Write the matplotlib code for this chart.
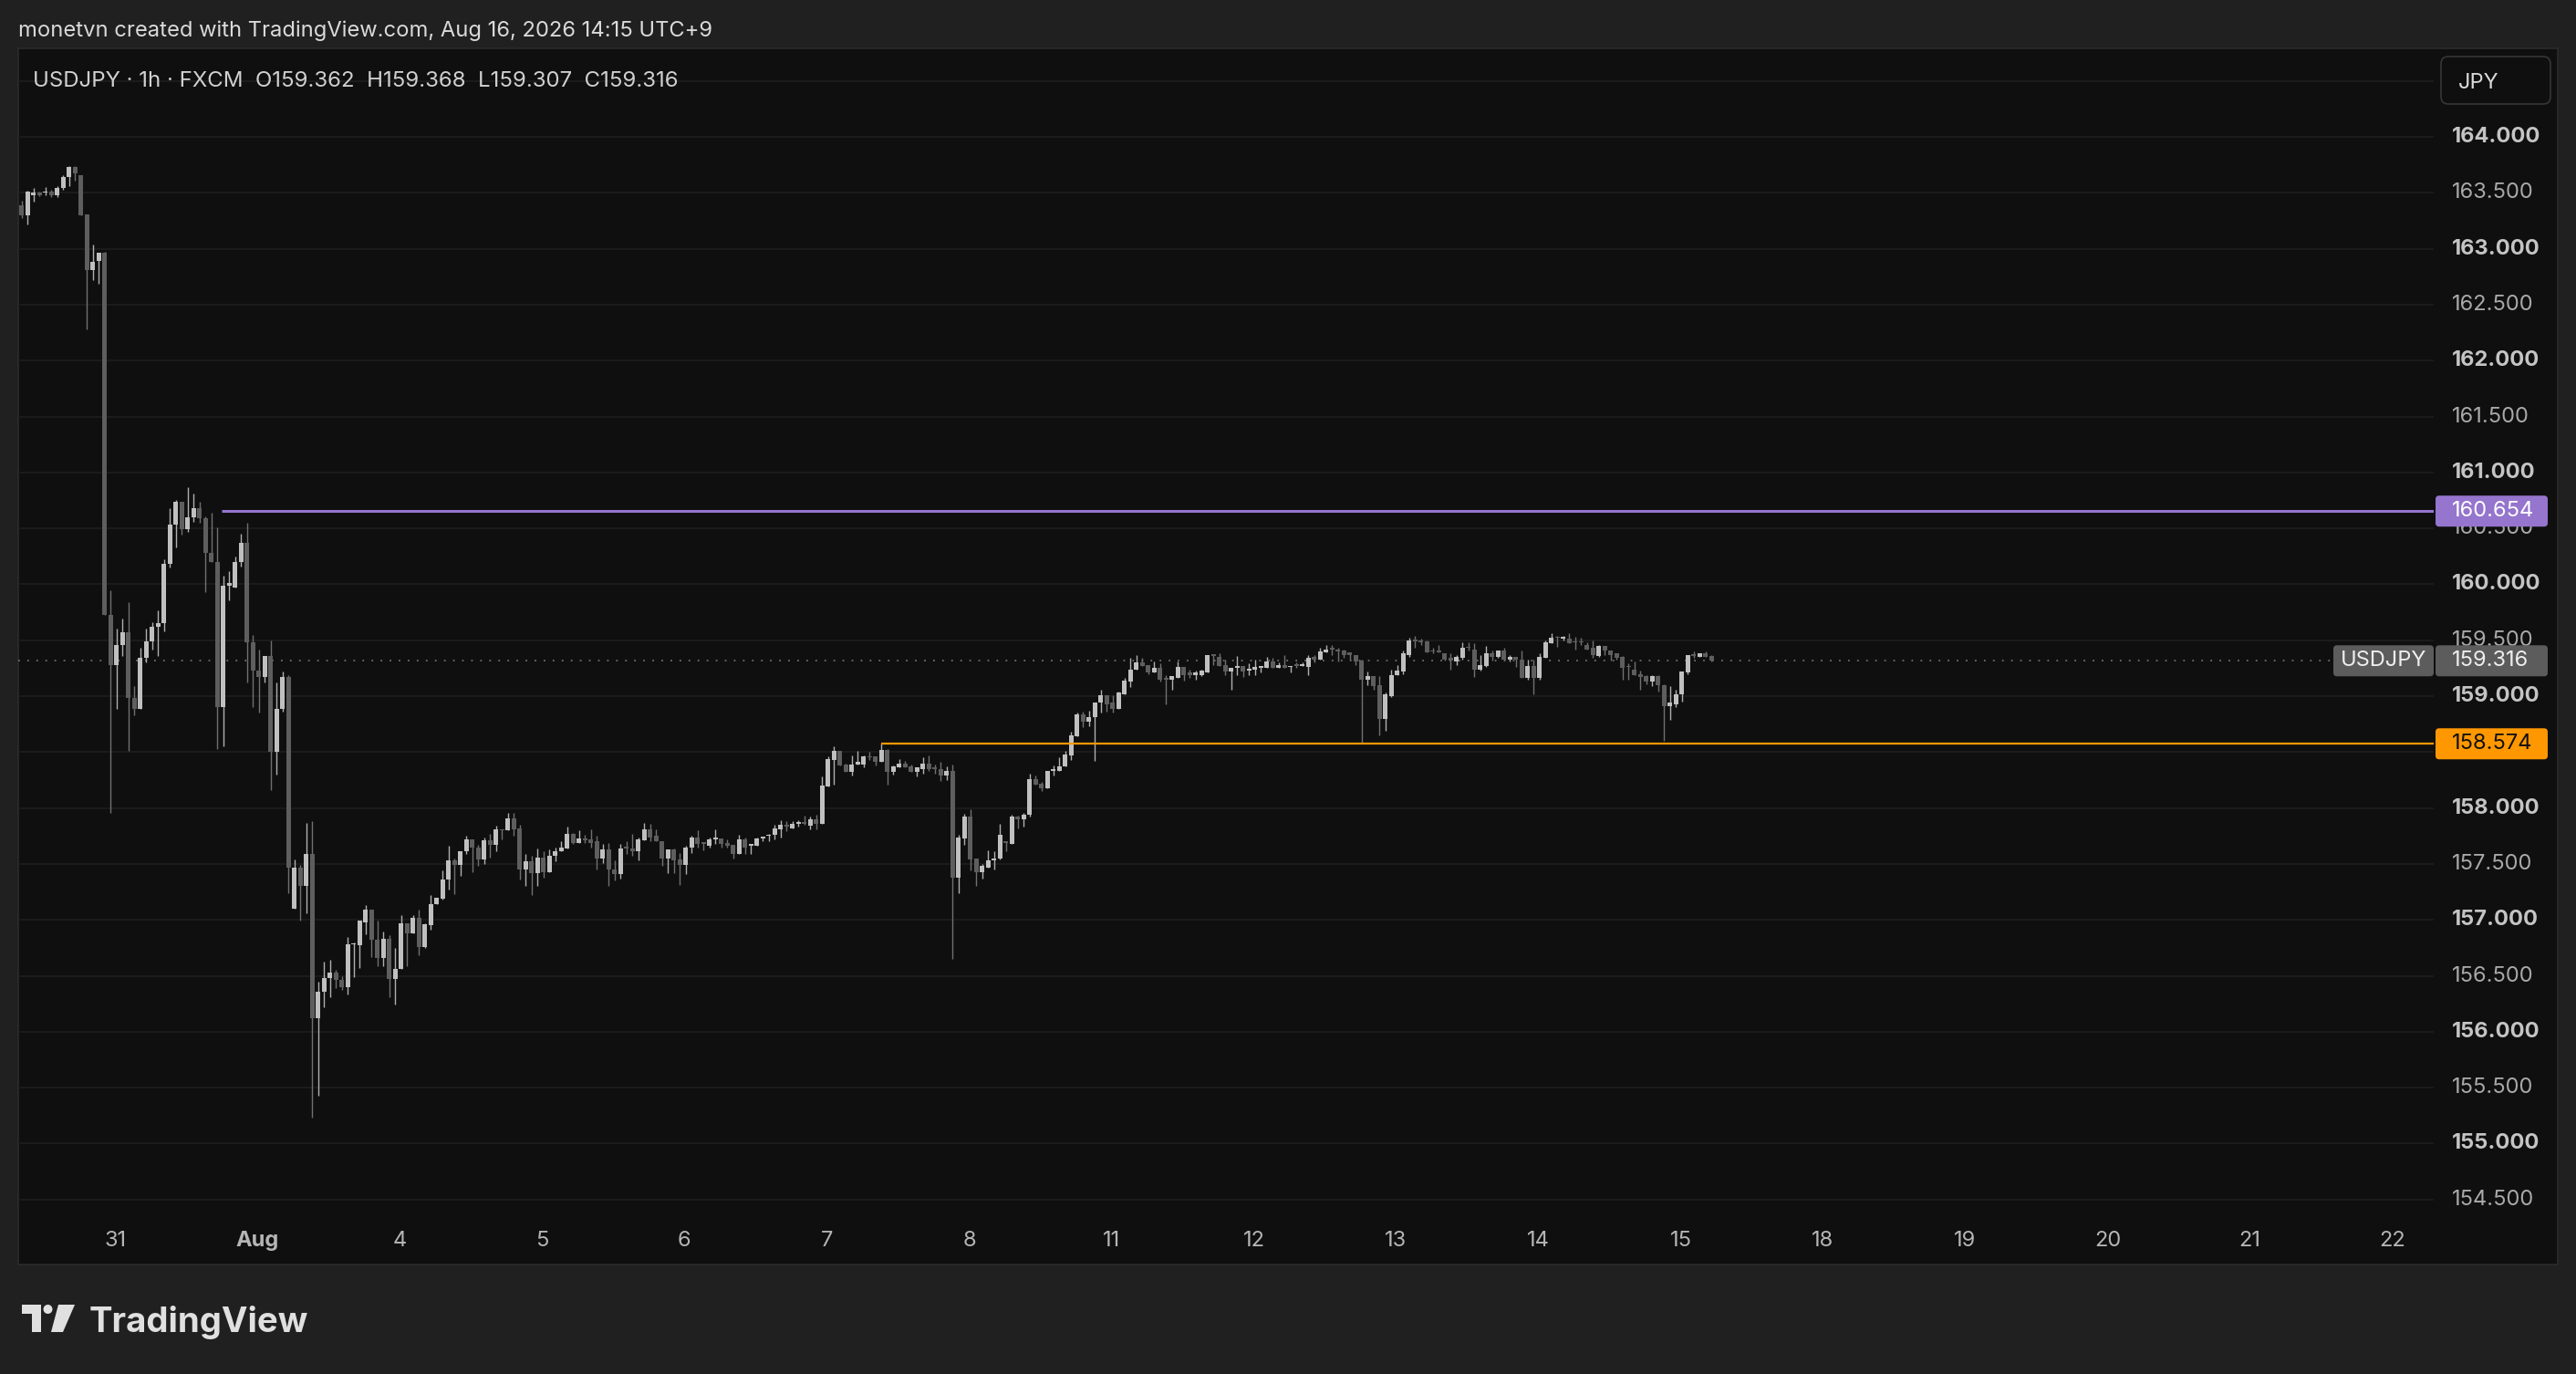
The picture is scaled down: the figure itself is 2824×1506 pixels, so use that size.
import numpy as np
import matplotlib.pyplot as plt
import matplotlib.transforms as mtransforms
from matplotlib.patches import Rectangle, FancyBboxPatch, Circle, Polygon

plt.rcParams['font.family'] = ['Inter', 'DejaVu Sans']

W, H, DPI = 2824, 1506, 100

# hourly USDJPY candles
opens = [
    163.39, 163.30, 163.48, 163.50, 163.50, 163.51, 163.48, 163.54, 163.64, 163.73,
    163.66, 163.31, 162.81, 162.89, 162.96, 159.73, 159.28, 159.46, 159.57, 158.98,
    158.89, 159.34, 159.49, 159.62, 159.65, 160.18, 160.53, 160.74, 160.49, 160.60,
    160.68, 160.59, 160.28, 160.20, 158.90, 159.99, 159.97, 160.20, 160.37, 159.48,
    159.23, 159.17, 159.36, 158.50, 158.89, 159.17, 157.10, 157.47, 157.30, 157.59,
    156.12, 156.36, 156.48, 156.53, 156.46, 156.40, 156.78, 156.77, 156.98, 157.09,
    156.82, 156.66, 156.83, 156.47, 156.56, 156.97, 156.88, 157.02, 156.76, 156.95,
    157.14, 157.19, 157.36, 157.53, 157.49, 157.61, 157.72, 157.65, 157.54, 157.71,
    157.67, 157.81, 157.80, 157.91, 157.82, 157.45, 157.52, 157.42, 157.56, 157.43,
    157.57, 157.61, 157.64, 157.77, 157.69, 157.73, 157.72, 157.70, 157.55, 157.63,
    157.45, 157.41, 157.65, 157.64, 157.61, 157.71, 157.81, 157.75, 157.70, 157.55,
    157.63, 157.54, 157.49, 157.65, 157.74, 157.69, 157.66, 157.72, 157.73, 157.69,
    157.67, 157.59, 157.72, 157.66, 157.66, 157.73, 157.75, 157.76, 157.81, 157.85,
    157.82, 157.86, 157.87, 157.84, 157.90, 157.86, 158.19, 158.43, 158.51, 158.39,
    158.32, 158.39, 158.39, 158.46, 158.46, 158.41, 158.52, 158.32, 158.36, 158.40,
    158.37, 158.32, 158.35, 158.40, 158.36, 158.35, 158.29, 158.33, 157.38, 157.73,
    157.92, 157.55, 157.43, 157.47, 157.53, 157.55, 157.70, 157.68, 157.92, 157.90,
    157.94, 158.26, 158.22, 158.18, 158.33, 158.33, 158.37, 158.47, 158.64, 158.84,
    158.77, 158.81, 158.94, 159.01, 158.94, 158.89, 159.02, 159.13, 159.24, 159.30,
    159.28, 159.21, 159.25, 159.16, 159.15, 159.16, 159.26, 159.21, 159.19, 159.19,
    159.21, 159.37, 159.35, 159.28, 159.22, 159.25, 159.27, 159.23, 159.24, 159.25,
    159.25, 159.31, 159.25, 159.28, 159.26, 159.28, 159.27, 159.26, 159.35, 159.33,
    159.39, 159.43, 159.42, 159.41, 159.39, 159.37, 159.32, 159.15, 159.18, 159.10,
    158.80, 159.00, 159.19, 159.22, 159.37, 159.50, 159.50, 159.49, 159.41, 159.41,
    159.38, 159.34, 159.31, 159.34, 159.44, 159.42, 159.24, 159.27, 159.38, 159.35,
    159.41, 159.33, 159.35, 159.33, 159.16, 159.27, 159.16, 159.34, 159.47, 159.53,
    159.51, 159.51, 159.49, 159.49, 159.46, 159.43, 159.36, 159.45, 159.41, 159.38,
    159.35, 159.27, 159.24, 159.20, 159.18, 159.13, 159.18, 159.10, 158.91, 158.93,
    159.02, 159.21, 159.37, 159.35, 159.38, 159.362,
]
highs = [
    163.43, 163.52, 163.54, 163.51, 163.55, 163.53, 163.56, 163.66, 163.74, 163.74,
    163.66, 163.31, 163.04, 162.96, 162.97, 159.95, 159.60, 159.69, 159.84, 159.09,
    159.43, 159.60, 159.66, 159.77, 160.22, 160.68, 160.75, 160.74, 160.87, 160.81,
    160.74, 160.61, 160.64, 160.51, 160.08, 160.12, 160.25, 160.45, 160.55, 159.55,
    159.42, 159.36, 159.50, 159.12, 159.22, 159.19, 157.54, 157.49, 157.87, 157.88,
    156.45, 156.63, 156.64, 156.55, 156.50, 156.85, 156.80, 156.99, 157.13, 157.09,
    156.99, 156.90, 156.86, 156.75, 157.04, 156.97, 157.04, 157.09, 156.97, 157.22,
    157.20, 157.44, 157.66, 157.55, 157.61, 157.75, 157.72, 157.67, 157.74, 157.77,
    157.84, 157.81, 157.96, 157.96, 157.85, 157.59, 157.57, 157.64, 157.61, 157.63,
    157.65, 157.70, 157.83, 157.78, 157.80, 157.76, 157.81, 157.75, 157.68, 157.69,
    157.53, 157.68, 157.70, 157.77, 157.74, 157.87, 157.86, 157.81, 157.70, 157.63,
    157.64, 157.60, 157.66, 157.75, 157.80, 157.69, 157.74, 157.81, 157.73, 157.72,
    157.67, 157.76, 157.74, 157.68, 157.74, 157.74, 157.77, 157.85, 157.89, 157.88,
    157.88, 157.89, 157.93, 157.92, 157.94, 158.28, 158.46, 158.55, 158.51, 158.40,
    158.47, 158.51, 158.47, 158.50, 158.46, 158.58, 158.53, 158.38, 158.44, 158.42,
    158.39, 158.36, 158.45, 158.47, 158.39, 158.41, 158.37, 158.39, 157.76, 157.95,
    157.99, 157.55, 157.50, 157.62, 157.61, 157.86, 157.70, 157.94, 157.93, 157.96,
    158.31, 158.29, 158.23, 158.33, 158.38, 158.45, 158.51, 158.68, 158.85, 158.86,
    158.87, 158.94, 159.06, 159.01, 159.01, 159.04, 159.16, 159.34, 159.37, 159.34,
    159.28, 159.31, 159.29, 159.19, 159.18, 159.31, 159.26, 159.24, 159.23, 159.24,
    159.37, 159.37, 159.38, 159.33, 159.25, 159.36, 159.27, 159.29, 159.33, 159.27,
    159.35, 159.34, 159.30, 159.37, 159.27, 159.30, 159.30, 159.37, 159.37, 159.43,
    159.46, 159.46, 159.43, 159.42, 159.39, 159.37, 159.33, 159.22, 159.18, 159.18,
    159.03, 159.24, 159.28, 159.41, 159.52, 159.54, 159.51, 159.50, 159.43, 159.46,
    159.38, 159.38, 159.37, 159.48, 159.48, 159.47, 159.37, 159.45, 159.41, 159.41,
    159.43, 159.37, 159.35, 159.41, 159.33, 159.33, 159.38, 159.50, 159.56, 159.54,
    159.54, 159.56, 159.53, 159.52, 159.48, 159.50, 159.46, 159.45, 159.41, 159.38,
    159.36, 159.29, 159.31, 159.23, 159.19, 159.19, 159.19, 159.11, 159.09, 159.06,
    159.22, 159.37, 159.40, 159.38, 159.40, 159.368,
]
lows = [
    163.27, 163.22, 163.42, 163.47, 163.48, 163.46, 163.46, 163.53, 163.56, 163.61,
    163.30, 162.28, 162.72, 162.69, 159.73, 157.96, 158.89, 159.36, 158.51, 158.83,
    158.89, 159.30, 159.42, 159.36, 159.58, 160.15, 160.33, 160.44, 160.47, 160.56,
    160.55, 159.93, 160.20, 158.53, 158.55, 159.86, 159.97, 160.16, 159.12, 158.90,
    158.85, 159.12, 158.16, 158.30, 158.86, 157.24, 157.10, 156.99, 157.06, 155.23,
    155.43, 156.22, 156.31, 156.39, 156.37, 156.33, 156.49, 156.57, 156.87, 156.67,
    156.59, 156.59, 156.31, 156.24, 156.56, 156.59, 156.88, 156.68, 156.75, 156.91,
    157.14, 157.18, 157.27, 157.23, 157.39, 157.59, 157.43, 157.48, 157.50, 157.56,
    157.61, 157.72, 157.80, 157.75, 157.36, 157.30, 157.22, 157.30, 157.38, 157.43,
    157.52, 157.61, 157.64, 157.68, 157.69, 157.69, 157.65, 157.45, 157.51, 157.30,
    157.35, 157.37, 157.59, 157.57, 157.53, 157.71, 157.70, 157.70, 157.48, 157.42,
    157.42, 157.31, 157.41, 157.60, 157.65, 157.62, 157.65, 157.68, 157.65, 157.65,
    157.55, 157.59, 157.59, 157.59, 157.66, 157.70, 157.70, 157.72, 157.74, 157.79,
    157.82, 157.83, 157.85, 157.81, 157.81, 157.86, 158.19, 158.21, 158.38, 158.32,
    158.29, 158.39, 158.36, 158.43, 158.38, 158.41, 158.21, 158.30, 158.36, 158.36,
    158.32, 158.28, 158.31, 158.33, 158.31, 158.24, 158.25, 156.65, 157.24, 157.67,
    157.44, 157.30, 157.37, 157.47, 157.45, 157.54, 157.61, 157.68, 157.82, 157.83,
    157.92, 158.21, 158.15, 158.18, 158.29, 158.33, 158.37, 158.43, 158.64, 158.72,
    158.73, 158.42, 158.85, 158.86, 158.85, 158.89, 159.02, 159.08, 159.24, 159.27,
    159.20, 159.21, 159.13, 158.93, 159.06, 159.16, 159.14, 159.16, 159.15, 159.18,
    159.21, 159.28, 159.27, 159.19, 159.06, 159.19, 159.17, 159.19, 159.19, 159.21,
    159.25, 159.25, 159.25, 159.25, 159.21, 159.25, 159.27, 159.19, 159.30, 159.33,
    159.39, 159.37, 159.31, 159.34, 159.33, 159.28, 158.58, 159.10, 159.06, 158.65,
    158.69, 158.99, 159.19, 159.20, 159.35, 159.43, 159.46, 159.39, 159.38, 159.39,
    159.32, 159.24, 159.28, 159.33, 159.41, 159.17, 159.23, 159.26, 159.32, 159.34,
    159.32, 159.31, 159.26, 159.16, 159.15, 159.02, 159.15, 159.34, 159.47, 159.44,
    159.50, 159.47, 159.42, 159.46, 159.42, 159.34, 159.35, 159.37, 159.32, 159.33,
    159.15, 159.15, 159.19, 159.06, 159.11, 159.09, 159.04, 158.60, 158.79, 158.90,
    158.95, 159.20, 159.34, 159.35, 159.35, 159.307,
]
closes = [
    163.30, 163.51, 163.50, 163.48, 163.51, 163.48, 163.54, 163.64, 163.73, 163.67,
    163.30, 162.81, 162.88, 162.96, 159.73, 159.28, 159.46, 159.57, 158.98, 158.89,
    159.34, 159.49, 159.62, 159.65, 160.18, 160.53, 160.74, 160.49, 160.60, 160.68,
    160.59, 160.28, 160.20, 158.90, 159.99, 160.01, 160.20, 160.37, 159.48, 159.23,
    159.17, 159.36, 158.50, 158.89, 159.17, 157.47, 157.47, 157.30, 157.59, 156.12,
    156.36, 156.48, 156.53, 156.46, 156.40, 156.78, 156.79, 156.99, 157.09, 156.82,
    156.66, 156.83, 156.47, 156.56, 156.97, 156.88, 157.02, 156.76, 156.96, 157.14,
    157.20, 157.36, 157.53, 157.49, 157.61, 157.72, 157.65, 157.54, 157.71, 157.67,
    157.81, 157.80, 157.91, 157.81, 157.45, 157.52, 157.42, 157.56, 157.43, 157.57,
    157.61, 157.65, 157.77, 157.69, 157.73, 157.71, 157.69, 157.55, 157.63, 157.45,
    157.41, 157.64, 157.64, 157.61, 157.72, 157.81, 157.74, 157.70, 157.55, 157.63,
    157.53, 157.49, 157.65, 157.74, 157.68, 157.68, 157.72, 157.73, 157.68, 157.66,
    157.59, 157.72, 157.65, 157.68, 157.73, 157.74, 157.76, 157.82, 157.85, 157.83,
    157.86, 157.87, 157.86, 157.90, 157.86, 158.20, 158.44, 158.51, 158.38, 158.32,
    158.39, 158.41, 158.46, 158.45, 158.41, 158.52, 158.32, 158.37, 158.40, 158.36,
    158.32, 158.36, 158.40, 158.35, 158.35, 158.29, 158.33, 157.38, 157.74, 157.92,
    157.54, 157.43, 157.48, 157.53, 157.55, 157.76, 157.69, 157.92, 157.90, 157.94,
    158.26, 158.21, 158.18, 158.33, 158.35, 158.37, 158.48, 158.65, 158.84, 158.77,
    158.81, 158.94, 159.01, 158.93, 158.89, 159.03, 159.14, 159.24, 159.30, 159.27,
    159.21, 159.25, 159.15, 159.15, 159.18, 159.26, 159.19, 159.19, 159.21, 159.23,
    159.37, 159.36, 159.27, 159.22, 159.25, 159.27, 159.22, 159.24, 159.26, 159.27,
    159.31, 159.25, 159.28, 159.25, 159.27, 159.27, 159.28, 159.34, 159.33, 159.40,
    159.42, 159.42, 159.40, 159.37, 159.37, 159.31, 159.15, 159.18, 159.09, 158.80,
    159.02, 159.19, 159.23, 159.38, 159.50, 159.49, 159.48, 159.39, 159.40, 159.39,
    159.33, 159.32, 159.35, 159.43, 159.43, 159.24, 159.28, 159.38, 159.35, 159.41,
    159.33, 159.35, 159.33, 159.16, 159.27, 159.16, 159.35, 159.48, 159.52, 159.52,
    159.53, 159.47, 159.48, 159.48, 159.42, 159.37, 159.45, 159.41, 159.37, 159.34,
    159.25, 159.26, 159.19, 159.17, 159.13, 159.18, 159.10, 158.91, 158.94, 159.02,
    159.22, 159.37, 159.36, 159.38, 159.35, 159.316,
]

day_labels = ['31', 'Aug', '4', '5', '6', '7', '8', '11', '12', '13', '14', '15',
              '18', '19', '20', '21', '22']
first_day_bar = 15.8
bars_per_day = 24

grid_levels = [154.5, 155.0, 155.5, 156.0, 156.5, 157.0, 157.5, 158.0, 158.5, 159.0,
               159.5, 160.0, 160.5, 161.0, 161.5, 162.0, 162.5, 163.0, 163.5, 164.0, 164.5]
price_labels = grid_levels[:-1]

purple_level, purple_start = 160.654, 33.7
orange_level, orange_start = 158.574, 144.9
last_price = 159.316

title = 'monetvn created with TradingView.com, Aug 16, 2026 14:15 UTC+9'
legend = 'USDJPY \u00b7 1h \u00b7 FXCM  O159.362  H159.368  L159.307  C159.316'

UP, UP_WICK = '#c0c0c0', '#b0b0b0'
DN, DN_WICK = '#5e5e5e', '#707070'
PURPLE, ORANGE = '#9575cd', '#ff9800'

fig = plt.figure(figsize=(W / DPI, H / DPI), dpi=DPI, facecolor='#202020')


def px_rect(x0, y0, x1, y1):
    return [x0 / W, 1 - y1 / H, (x1 - x0) / W, (y1 - y0) / H]


# background layer in pixel coordinates
bg = fig.add_axes([0, 0, 1, 1])
bg.set_xlim(0, W)
bg.set_ylim(H, 0)
bg.axis('off')
bg.add_patch(Rectangle((20, 53), 2784, 1333, facecolor='#0f0f0f',
                       edgecolor='#2b2b2b', lw=1.2))
bg.text(20, 40, title, color='#dadada', fontsize=17.1, va='baseline', ha='left')

# TradingView logo
logo_c = '#e0e0e0'
bg.add_patch(Polygon([(24, 1430), (45, 1430), (45, 1460), (35, 1460), (35, 1440), (24, 1440)],
                     closed=True, color=logo_c, lw=0))
bg.add_patch(Circle((52.5, 1435), 5, color=logo_c, lw=0))
bg.add_patch(Polygon([(64, 1430), (82, 1430), (69, 1460), (56, 1460)],
                     closed=True, color=logo_c, lw=0))
bg.text(98, 1460, 'TradingView', color=logo_c, fontsize=27.6, fontweight='bold',
        va='baseline', ha='left')

# main price pane
ax = fig.add_axes(px_rect(20, 53, 2668, 1386))
ax.set_facecolor('none')
ax.axis('off')
x_lo, x_hi = -0.57, 406.8
y_lo, y_hi = 153.919, 164.791
ax.set_xlim(x_lo, x_hi)
ax.set_ylim(y_lo, y_hi)

for lvl in grid_levels:
    ax.axhline(lvl, color='#1f1f1f', lw=1.1, zorder=0)

o = np.array(opens)
h = np.array(highs)
l = np.array(lows)
c = np.array(closes)
x = np.arange(len(o))
up = c >= o
body_lo = np.minimum(o, c)
body_h = np.maximum(np.abs(c - o), 0.012)

ax.vlines(x[up], l[up], h[up], color=UP_WICK, lw=1.0, zorder=2)
ax.vlines(x[~up], l[~up], h[~up], color=DN_WICK, lw=1.0, zorder=2)
ax.bar(x[up], body_h[up], bottom=body_lo[up], width=0.8, color=UP, lw=0, zorder=3)
ax.bar(x[~up], body_h[~up], bottom=body_lo[~up], width=0.8, color=DN, lw=0, zorder=3)

ax.hlines(purple_level, purple_start, x_hi, color=PURPLE, lw=2.2, zorder=4)
ax.hlines(orange_level, orange_start, x_hi, color=ORANGE, lw=1.6, zorder=4)
ax.hlines(last_price, x_lo, x_hi, color='#6e6e6e', lw=1.3,
          linestyles=(0, (1, 4.5)), zorder=1)

# time axis labels
tdate = mtransforms.blended_transform_factory(ax.transData, ax.transAxes)
for k, lab in enumerate(day_labels):
    ax.text(first_day_bar + k * bars_per_day, 0.0195, lab, transform=tdate,
            ha='center', va='center', fontsize=17, color='#b5b5b5',
            fontweight='bold' if lab == 'Aug' else 'normal')

# price scale, x in pixels
axp = fig.add_axes(px_rect(2668, 53, 2804, 1386))
axp.set_facecolor('none')
axp.axis('off')
axp.set_xlim(2668, 2804)
axp.set_ylim(y_lo, y_hi)
for p in price_labels:
    major = float(p).is_integer()
    axp.text(2688, p, f'{p:.3f}', ha='left', va='center', fontsize=17,
             color='#c4c4c4' if major else '#a9a9a9',
             fontweight='bold' if major else 'normal')

price_per_px = (y_hi - y_lo) / 1333
half = 17 * price_per_px


def tag(x0, x1, price, fc, txt, tc, tx, ha='left'):
    axp.add_patch(FancyBboxPatch((x0, price - half), x1 - x0, 2 * half,
                                 boxstyle='round,pad=0,rounding_size=4',
                                 mutation_aspect=price_per_px, fc=fc, ec='none',
                                 zorder=5, clip_on=False))
    axp.text(tx, price, txt, ha=ha, va='center', fontsize=17, color=tc,
             zorder=6, clip_on=False)


tag(2670, 2793, purple_level, PURPLE, f'{purple_level:.3f}', '#ffffff', 2688)
tag(2670, 2793, orange_level, ORANGE, f'{orange_level:.3f}', '#111111', 2688)
tag(2670, 2793, last_price, '#5c5c5c', f'{last_price:.3f}', '#eeeeee', 2688)
tag(2558, 2668, last_price, '#5c5c5c', 'USDJPY', '#eeeeee', 2613, ha='center')

# top overlay: legend line and currency box
top = fig.add_axes([0, 0, 1, 1])
top.set_xlim(0, W)
top.set_ylim(H, 0)
top.axis('off')
top.text(36, 95, legend, color='#d0d0d0', fontsize=17.3, va='baseline', ha='left')
top.add_patch(FancyBboxPatch((2676, 62), 120, 52, boxstyle='round,pad=0,rounding_size=8',
                             fc='#0f0f0f', ec='#363636', lw=1.2))
top.text(2695, 97, 'JPY', color='#d8d8d8', fontsize=17, va='baseline', ha='left')

fig.savefig('out.png', dpi=DPI, facecolor=fig.get_facecolor())
